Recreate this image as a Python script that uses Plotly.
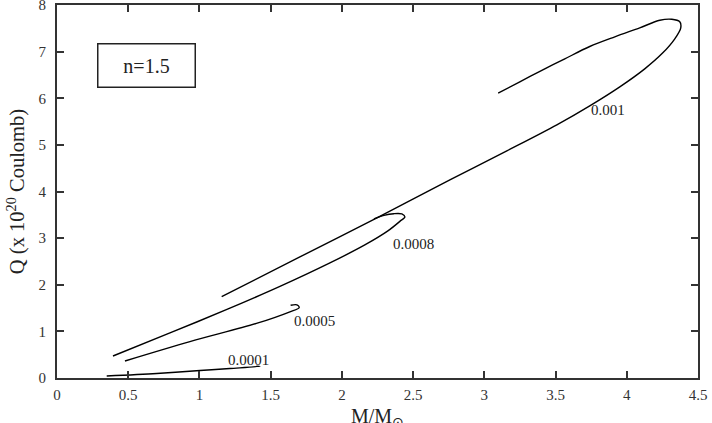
import plotly.graph_objects as go

# ---- data ----
curve_names = ["0.0001", "0.0005", "0.0008", "0.001"]

x_0001 = [0.349, 0.70, 1.004, 1.214, 1.425, 1.40]
y_0001 = [0.043, 0.097, 0.160, 0.204, 0.250, 0.252]

x_0005 = [0.477, 0.933, 1.40, 1.635, 1.70, 1.684, 1.64]
y_0005 = [0.365, 0.78, 1.17, 1.42, 1.51, 1.57, 1.56]

x_0008 = [0.393, 0.793, 1.193, 1.565, 1.916, 2.161, 2.323, 2.407, 2.442, 2.421, 2.365, 2.295, 2.225]
y_0008 = [0.472, 0.966, 1.470, 1.964, 2.468, 2.854, 3.155, 3.359, 3.455, 3.519, 3.524, 3.487, 3.412]

x_001 = [1.156, 1.705, 2.246, 2.758, 3.158, 3.509, 3.740, 3.951, 4.126, 4.253, 4.337, 4.379,
         4.372, 4.316, 4.232, 4.091, 3.916, 3.740, 3.565, 3.390, 3.249, 3.097]
y_001 = [1.745, 2.597, 3.433, 4.249, 4.871, 5.429, 5.837, 6.245, 6.631, 6.974, 7.275, 7.511,
         7.639, 7.693, 7.672, 7.511, 7.318, 7.110, 6.845, 6.577, 6.352, 6.109]

label_x = [1.347, 1.81, 2.50, 3.87]
label_y = [0.386, 1.22, 2.875, 5.75]

x_ticks = [0, 0.5, 1, 1.5, 2, 2.5, 3, 3.5, 4, 4.5]
x_ticklabels = ["0", "0.5", "1", "1.5", "2", "2.5", "3", "3.5", "4", "4.5"]
y_ticks = [0, 1, 2, 3, 4, 5, 6, 7, 8]

box_text = "n=1.5"
box_x, box_y = 0.625, 6.70

x_title = "M/M<sub>⊙</sub>"
y_title = "Q (x 10<sup>20</sup> Coulomb)"

FONT = "Liberation Serif, Times New Roman, serif"

fig = go.Figure()
for xs, ys in [(x_0001, y_0001), (x_0005, y_0005), (x_0008, y_0008), (x_001, y_001)]:
    fig.add_trace(go.Scatter(x=xs, y=ys, mode="lines",
                             line=dict(color="black", width=1.4, shape="spline", smoothing=0.9),
                             showlegend=False, hoverinfo="skip"))

for name, lx, ly in zip(curve_names, label_x, label_y):
    fig.add_annotation(x=lx, y=ly, text=name, showarrow=False,
                       font=dict(family=FONT, size=15, color="#222"))

fig.add_annotation(x=box_x, y=box_y, text=box_text, showarrow=False,
                   font=dict(family=FONT, size=20, color="#222"),
                   width=94, height=40, borderpad=1, bordercolor="#222", borderwidth=1.5)

fig.add_annotation(xref="paper", yref="paper", x=0.5, y=0, xanchor="center", yanchor="top",
                   yshift=-25, text=x_title, showarrow=False,
                   font=dict(family=FONT, size=20, color="#222"))

axis_common = dict(showgrid=False, zeroline=False, showline=True, linecolor="#333", linewidth=1.8,
                   mirror="allticks", ticks="inside", ticklen=7, tickwidth=1.5, tickcolor="#333",
                   tickfont=dict(family=FONT, size=15, color="#333"), automargin=False)

fig.update_xaxes(range=[0, 4.5], tickvals=x_ticks, ticktext=x_ticklabels, ticklabelstandoff=2,
                 **axis_common)
fig.update_yaxes(range=[0, 8], tickvals=y_ticks, ticklabelstandoff=6, ticklabeloverflow="allow",
                 title=dict(text=y_title, font=dict(family=FONT, size=20.5, color="#222"), standoff=8),
                 **axis_common)

fig.update_layout(width=712, height=423, margin=dict(l=57, r=14, t=5, b=45),
                  paper_bgcolor="white", plot_bgcolor="white")

fig.write_html("out.html")
